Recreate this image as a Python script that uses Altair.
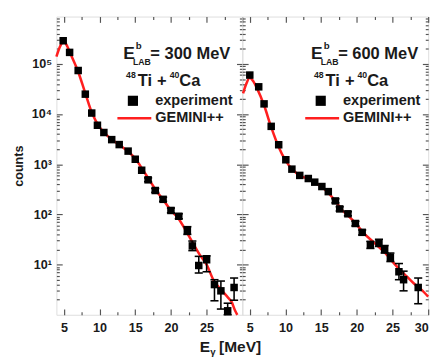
import altair as alt
import pandas as pd

FONT = "Liberation Sans"
INK = "#1a1a1a"
FRAME = "#555555"
RED = "#ff1f1f"

# ---------------- data: E_lab = 300 MeV ----------------
exp300_E = [4.9, 5.8, 7.0, 8.0, 8.9, 9.7, 10.6, 11.7, 12.75, 14.0, 15.0, 15.9, 16.8, 17.8,
            18.9, 20.0, 21.1, 22.3, 23.0, 23.9, 25.0, 26.1, 27.0, 27.95, 28.85]
exp300_c = [2.9e5, 1.7e5, 7.4e4, 2.5e4, 1.05e4, 6000, 4300, 3100, 2470, 1830, 1260, 760, 490, 300,
            200, 120, 92, 48, 23.6, 9.6, 12.5, 4.0, 3.0, 1.2, 3.5]
err300_E = [16.8, 17.8, 18.9, 20.0, 21.1, 22.3, 23.0, 23.9, 25.0, 26.1, 27.0, 27.95, 28.85]
err300_lo = [450, 275, 182, 108, 82, 40, 19, 6.8, 7.2, 1.9, 1.3, 1.0, 1.95]
err300_hi = [535, 330, 220, 134, 103, 57, 29.5, 14.6, 15, 5.0, 4.7, 1.7, 5.4]
gem300_E = [3.95, 4.5, 5.0, 5.5, 6.0, 7.0, 8.0, 9.0, 10.0, 11.0, 12.0, 13.0, 14.0, 15.0, 16.0,
            17.0, 18.0, 19.0, 20.0, 21.0, 22.0, 23.0, 24.0, 25.0, 26.0, 27.0, 28.0, 28.5, 29.0, 29.3]
gem300_c = [1.4e5, 2.3e5, 2.8e5, 2.2e5, 1.5e5, 7.0e4, 2.6e4, 1.0e4, 5500, 3800, 2900, 2300, 1800,
            1300, 800, 480, 290, 190, 120, 85, 50, 28, 16, 10, 4.8, 3.2, 2.2, 1.8, 1.2, 1.0]

# ---------------- data: E_lab = 600 MeV ----------------
exp600_E = [5.0, 6.25, 7.0, 8.0, 9.05, 10.05, 10.9, 12.0, 13.2, 14.1, 15.1, 16.0, 17.0, 17.6,
            18.75, 19.8, 20.75, 21.9, 23.1, 23.9, 24.7, 25.9, 26.55, 28.6]
exp600_c = [6.0e4, 3.5e4, 1.6e4, 5700, 2450, 1230, 800, 600, 520, 440, 360, 285, 186, 129,
            103, 66, 44, 25, 27, 20, 14, 7.2, 5.0, 3.5]
err600_E = [17.0, 17.6, 18.75, 19.8, 20.75, 21.9, 23.1, 23.9, 24.7, 25.9, 26.55, 28.6]
err600_lo = [170, 117, 94, 59, 39, 21, 23, 17, 11.5, 5.0, 3.0, 1.66]
err600_hi = [205, 142, 113, 73, 49, 29, 32, 24, 17, 10.5, 7.4, 5.4]
gem600_E = [4.06, 4.5, 5.0, 5.5, 6.0, 7.0, 8.0, 9.0, 10.0, 11.0, 12.0, 13.0, 14.0, 15.0, 16.0,
            17.0, 18.0, 19.0, 20.0, 21.0, 22.0, 23.0, 24.0, 25.0, 26.0, 27.0, 28.0, 29.0, 30.0]
gem600_c = [2.6e4, 4.0e4, 5.3e4, 4.5e4, 3.3e4, 1.5e4, 5500, 2300, 1200, 780, 600, 520, 440, 360,
            270, 185, 120, 88, 62, 42, 31, 23, 17, 11.5, 8, 5.8, 4.2, 3.2, 2.3]

# ---------------- axes ----------------
x_domain = [3.95, 30]
y_domain = [1, 8.8e5]
x_major = [5, 10, 15, 20, 25, 30]
x_minor = [7.5, 12.5, 17.5, 22.5, 27.5]
y_major = [10, 100, 1000, 10000, 100000]
y_sup = ["\u00b9", "\u00b2", "\u00b3", "\u2074", "\u2075"]
y_minor = [k * 10 ** d for d in range(0, 6) for k in range(2, 10) if k * 10 ** d < 8.8e5]

label_expr = " : ".join(
    f"datum.value == {v} ? '10{s}'" for v, s in zip(y_major, y_sup)) + " : ''"

W, H = 192, 308


def xaxis(orient, values, size, labels=False):
    kw = dict(orient=orient, values=values, tickSize=size, offset=-size, domain=False,
              grid=False, labels=labels, title=None, tickColor=FRAME, tickWidth=1.2,
              minExtent=0)
    if labels:
        kw.update(labelFont=FONT, labelFontWeight="bold", labelFontSize=13, labelColor=INK,
                  labelPadding=7, labelFlush=True, labelOverlap=False)
    return alt.Axis(**kw)


def yaxis(orient, values, size, labels=False, title=None):
    kw = dict(orient=orient, values=values, tickSize=size, offset=-size, domain=False, grid=False,
              labels=labels, tickColor=FRAME, tickWidth=1.2, minExtent=0)
    if labels:
        kw.update(labelExpr=label_expr, labelFont=FONT, labelFontWeight="bold", labelFontSize=13,
                  labelColor=INK, labelPadding=5, labelOverlap=False)
    if title:
        kw.update(title=title, titleFont=FONT, titleFontWeight="bold", titleFontSize=13,
                  titleColor=INK, titlePadding=6)
    else:
        kw.update(title=None)
    return alt.Axis(**kw)


one = pd.DataFrame({"a": [0]})


def txt(s, x, y, size, **kw):
    return alt.Chart(one).mark_text(
        text=s, align="left", baseline="alphabetic", fontSize=size, fontWeight="bold",
        font=FONT, color=INK, **kw).encode(x=alt.value(x), y=alt.value(y))


def panel(eE, ec, rE, rlo, rhi, gE, gc, energy, xlabels, left, dx):
    xs = alt.Scale(domain=x_domain, nice=False, zero=False)
    ys = alt.Scale(type="log", domain=y_domain, nice=False)
    gem = pd.DataFrame({"E": gE, "c": gc})
    exp = pd.DataFrame({"E": eE, "c": ec})
    err = pd.DataFrame({"E": rE, "lo": rlo, "hi": rhi})

    curve = alt.Chart(gem).mark_line(color=RED, strokeWidth=2.6, interpolate="monotone").encode(
        x=alt.X("E:Q", scale=xs, axis=xaxis("bottom", xlabels, 6, labels=True)),
        y=alt.Y("c:Q", scale=ys, axis=yaxis("left", y_major, 6, labels=left,
                                            title="counts" if left else None)))
    bars = alt.Chart(err).mark_rule(color="black", strokeWidth=1.6).encode(
        x=alt.X("E:Q", scale=xs, axis=xaxis("bottom", x_minor, 3)),
        y=alt.Y("lo:Q", scale=ys, axis=yaxis("left", y_minor, 3)),
        y2="hi:Q")
    cap_lo = alt.Chart(err).mark_point(shape="M-1,0L1,0", size=70, filled=False, color="black",
                                       strokeWidth=1.6, opacity=1).encode(
        x=alt.X("E:Q", scale=xs, axis=xaxis("top", x_major, 6)),
        y=alt.Y("lo:Q", scale=ys, axis=yaxis("right", y_major, 6)))
    cap_hi = alt.Chart(err).mark_point(shape="M-1,0L1,0", size=70, filled=False, color="black",
                                       strokeWidth=1.6, opacity=1).encode(
        x=alt.X("E:Q", scale=xs, axis=xaxis("top", x_minor, 3)),
        y=alt.Y("hi:Q", scale=ys, axis=yaxis("right", y_minor, 3)))
    pts = alt.Chart(exp).mark_square(size=60, color="black", opacity=1).encode(
        x=alt.X("E:Q", scale=xs, axis=None),
        y=alt.Y("c:Q", scale=ys, axis=None))

    ann = [
        txt("E", 69 + dx, 44, 18),
        txt("b", 82 + dx, 34, 10),
        txt("LAB", 79 + dx, 50, 9),
        txt(f"= {energy} MeV", 97 + dx, 44, 17),
        txt("48", 72 + dx, 63, 9),
        txt("Ti", 84 + dx, 72, 17),
        txt("+", 104 + dx, 72, 17),
        txt("40", 117 + dx, 63, 9),
        txt("Ca", 127 + dx, 72, 17),
        txt("experiment", 102 + dx, 91, 15),
        txt("GEMINI++", 102 + dx, 109, 15),
        alt.Chart(one).mark_square(size=110, color="black", opacity=1).encode(
            x=alt.value(79 + dx), y=alt.value(87)),
        alt.Chart(one).mark_rule(color=RED, strokeWidth=2.6).encode(
            x=alt.value(63 + dx), x2=alt.value(98 + dx), y=alt.value(105)),
    ]
    if left:
        ann += [
            txt("E", 148, 346, 16),
            txt("\u03b3", 159, 350, 10),
            txt("[MeV]", 168, 346, 16),
        ]
    return alt.layer(curve, bars, cap_lo, cap_hi, pts, *ann).resolve_axis(
        x="independent", y="independent").properties(width=W, height=H)


left = panel(exp300_E, exp300_c, err300_E, err300_lo, err300_hi, gem300_E, gem300_c,
             300, [5, 10, 15, 20, 25], True, 0)
right = panel(exp600_E, exp600_c, err600_E, err600_lo, err600_hi, gem600_E, gem600_c,
              600, x_major, False, 2)

chart = alt.hconcat(left, right, spacing=0, bounds="flush").properties(
    padding={"left": 4, "top": 1, "right": 0, "bottom": 0}
).configure_view(stroke=FRAME, strokeWidth=1.5).configure(background="white")

chart.save("out.html", embed_options={"renderer": "svg", "actions": False})
